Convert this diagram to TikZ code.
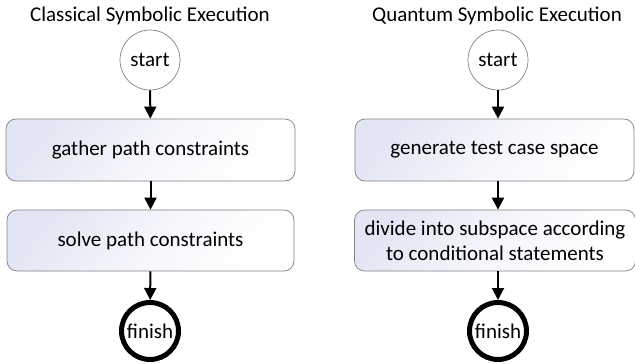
\documentclass[tikz,border=0pt]{standalone}
\usepackage{fontspec}
\setmainfont{Carlito}
\usetikzlibrary{arrows.meta}
\definecolor{boxblue}{RGB}{226,230,244}
\definecolor{edgegray}{RGB}{128,128,128}
\tikzset{
  stepbox/.style={draw=edgegray, line width=0.7pt, rounded corners=10pt,
    top color=boxblue, bottom color=white, middle color=boxblue!35!white, shading angle=50,
    minimum height=62pt, align=center, font=\fontsize{21}{25}\selectfont, inner sep=0pt},
  startnode/.style={circle, draw=edgegray, line width=0.7pt, fill=white, minimum size=60pt, inner sep=0pt, font=\fontsize{21}{24}\selectfont},
  finishnode/.style={circle, draw=black, line width=5pt, fill=white, minimum size=57pt, inner sep=0pt, font=\fontsize{21}{24}\selectfont},
  titlenode/.style={font=\fontsize{21}{24}\selectfont},
  flow/.style={line width=2pt, -{Triangle[length=12pt,width=12pt]}}
}
\begin{document}
\begin{tikzpicture}[x=1pt,y=-1pt]
\useasboundingbox (0,0) rectangle (635,364);
% left column
\node[titlenode] (ltitle) at (150,16) {Classical Symbolic Execution};
\node[startnode] (lstart) at (150,60) {start};
\node[stepbox, minimum width=289pt] (lgather) at (150.5,150) {gather path constraints};
\node[stepbox, minimum width=287pt, minimum height=61pt] (lsolve) at (150.5,240.5) {solve path constraints};
\node[finishnode] (lfinish) at (150,331) {finish};
\draw[flow] (lstart) -- (lgather);
\draw[flow] (lgather) -- (lsolve);
\draw[flow] (lsolve) -- (lfinish);
% right column
\node[titlenode] (rtitle) at (497,16) {Quantum Symbolic Execution};
\node[startnode] (rstart) at (498,60) {start};
\node[stepbox, minimum width=279pt] (rgen) at (494.5,150) {generate test case space};
\node[stepbox, minimum width=281pt, minimum height=61pt] (rdiv) at (495,240.5) {divide into subspace according\\to conditional statements};
\node[finishnode] (rfinish) at (498,331) {finish};
\draw[flow] (rstart) -- (rstart |- rgen.north);
\draw[flow] (rgen.south -| rstart) -- (rstart |- rdiv.north);
\draw[flow] (rdiv.south -| rstart) -- (rfinish);
\end{tikzpicture}
\end{document}
